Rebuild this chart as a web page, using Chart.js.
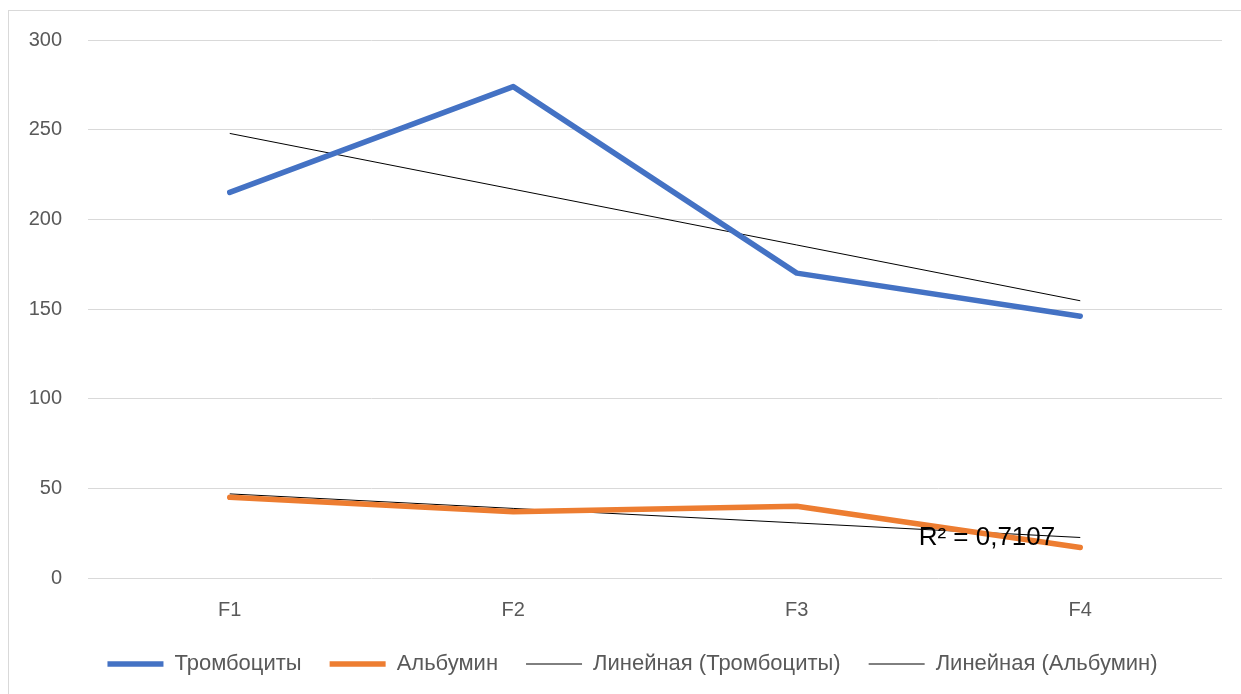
<!DOCTYPE html>
<html lang="ru">

<head>
  <meta charset="UTF-8">
  <title>Тромбоциты / Альбумин</title>
  <script src="https://cdn.jsdelivr.net/npm/chart.js"></script>
  <style>
    body { margin: 0; background: #ffffff; }
    .moldura {
      position: absolute;
      left: 8px;
      top: 10px;
      width: 1232px;
      height: 683px;
      border-left: 1px solid #d9d9d9;
      border-top: 1px solid #d9d9d9;
    }
  </style>
</head>

<body>
  <div class="moldura">
    <canvas id="myChart" width="1232" height="683"></canvas>
  </div>

<script>
  // dados
  var categorias = ['F1', 'F2', 'F3', 'F4'];
  var trombocitos = [215, 274, 170, 146];
  var albumina = [45, 37, 40, 17];
  var yMin = 0;
  var yMax = 300;
  var yPasso = 50;
  var textoR2 = 'R² = 0,7107';

  var fonte = '"Liberation Sans", Arial, sans-serif';

  // linha de tendencia linear (minimos quadrados), como o Excel faz
  function tendenciaLinear(valores) {
    let n = valores.length;
    let sx = 0, sy = 0, sxy = 0, sxx = 0;
    for (let i = 0; i < n; i++) {
      let x = i + 1;
      sx += x; sy += valores[i]; sxy += x * valores[i]; sxx += x * x;
    }
    let b = (n * sxy - sx * sy) / (n * sxx - sx * sx);
    let a = (sy - b * sx) / n;
    return valores.map((v, i) => a + b * (i + 1));
  }

  var tendTromb = tendenciaLinear(trombocitos);
  var tendAlb = tendenciaLinear(albumina);

  // texto do R² perto do fim da tendencia do albumin
  const pluginR2 = {
    id: 'textoR2',
    afterDatasetsDraw(chart) {
      const ctx = chart.ctx;
      const x = chart.scales.x.getPixelForValue(categorias.length - 1) - 25;
      const y = chart.scales.y.getPixelForValue(tendAlb[tendAlb.length - 1]);
      ctx.save();
      ctx.font = '26px ' + fonte;
      ctx.fillStyle = '#000000';
      ctx.textAlign = 'right';
      ctx.textBaseline = 'middle';
      ctx.fillText(textoR2, x, y);
      ctx.restore();
    }
  };

  // a legenda do original fica um pouco mais para a direita
  const pluginLegenda = {
    id: 'deslocaLegenda',
    afterLayout(chart) {
      if (chart.legend) {
        chart.legend.left += 17;
        chart.legend.right += 17;
      }
    }
  };

  let dados = {
    labels: categorias,
    datasets: [
      {
        label: 'Тромбоциты',
        data: trombocitos,
        borderColor: '#4472C4',
        backgroundColor: '#4472C4',
        borderWidth: 5.5,
        borderCapStyle: 'round',
        borderJoinStyle: 'round',
        pointRadius: 0,
        tension: 0
      },
      {
        label: 'Альбумин',
        data: albumina,
        borderColor: '#ED7D31',
        backgroundColor: '#ED7D31',
        borderWidth: 5.5,
        borderCapStyle: 'round',
        borderJoinStyle: 'round',
        pointRadius: 0,
        tension: 0
      },
      {
        label: 'Линейная (Тромбоциты)',
        data: tendTromb,
        borderColor: '#000000',
        backgroundColor: '#000000',
        borderWidth: 1,
        pointRadius: 0
      },
      {
        label: 'Линейная (Альбумин)',
        data: tendAlb,
        borderColor: '#000000',
        backgroundColor: '#000000',
        borderWidth: 1,
        pointRadius: 0
      }
    ]
  };

  const config = {
    type: 'line',
    data: dados,
    plugins: [pluginR2, pluginLegenda],
    options: {
      responsive: false,
      animation: false,
      layout: { padding: { top: 29, right: 19, left: 0, bottom: 9 } },
      plugins: {
        tooltip: { enabled: false },
        legend: {
          position: 'bottom',
          labels: {
            usePointStyle: true,
            pointStyle: 'line',
            pointStyleWidth: 56,
            color: '#595959',
            padding: 28,
            font: { family: fonte, size: 22 }
          }
        }
      },
      scales: {
        x: {
          offset: true,
          grid: { display: false, drawTicks: false },
          border: { display: false },
          ticks: {
            color: '#595959',
            padding: 20,
            font: { family: fonte, size: 20 }
          },
          afterFit: (s) => { s.height = 47; s.paddingLeft = 0; s.paddingRight = 0; }
        },
        y: {
          min: yMin,
          max: yMax,
          grid: { color: '#d9d9d9', lineWidth: 1, drawTicks: false },
          border: { display: false },
          ticks: {
            stepSize: yPasso,
            color: '#595959',
            padding: 26,
            font: { family: fonte, size: 20 }
          },
          afterFit: (s) => { s.width = 79; s.paddingTop = 0; s.paddingBottom = 0; }
        }
      }
    }
  };

  let myChart = new Chart(document.getElementById('myChart'), config);
</script>
</body>

</html>
